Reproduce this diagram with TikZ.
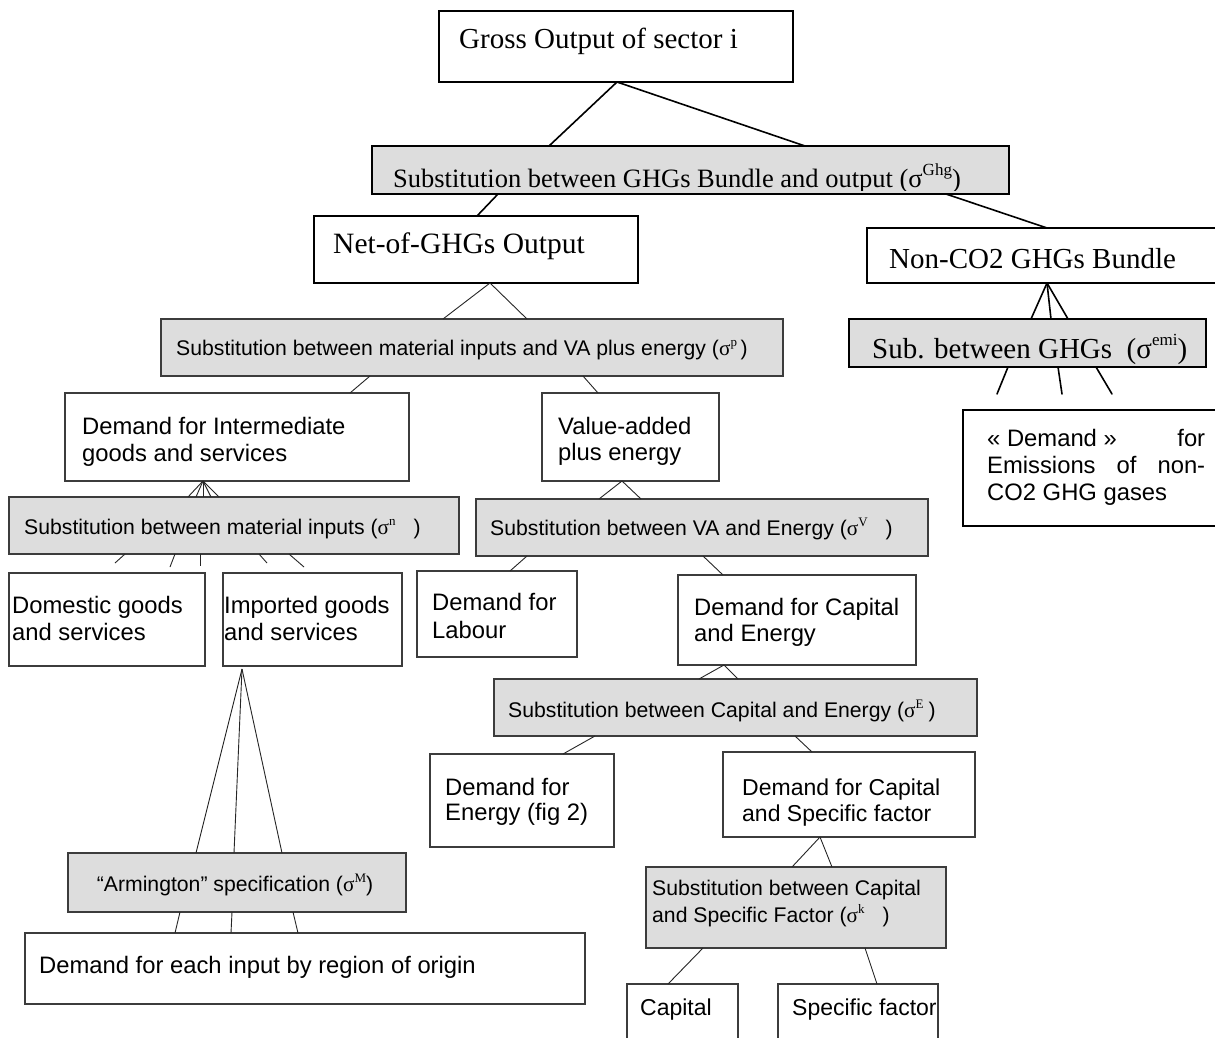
\documentclass[tikz,border=0pt]{standalone}
\usepackage{fontspec}
\setmainfont{Liberation Serif}
\newfontfamily\arialf{Liberation Sans}
\definecolor{subgray}{RGB}{221,221,221}
\definecolor{lowedge}{RGB}{60,60,60}
\newcommand{\supr}[2][13]{\raisebox{0.42em}{\fontsize{#1}{#1}\selectfont\rmfamily #2}}
\newcommand{\sig}{{\rmfamily σ}}
\tikzset{
  wh/.style 2 args={minimum width=#1pt, minimum height=#2pt},
  tbox/.style={draw=black, line width=1.8pt, fill=white, anchor=north west, inner sep=0pt, outer sep=0pt},
  tsub/.style={tbox, fill=subgray},
  lbox/.style={draw=lowedge, line width=1.2pt, fill=white, anchor=north west, inner sep=0pt, outer sep=0pt},
  lsub/.style={lbox, fill=subgray},
  tline/.style={line width=1.6pt, line cap=round},
  lline/.style={line width=0.9pt, draw=black!85},
  ttxt/.style={anchor=base west, inner sep=0pt, font=\fontsize{29}{33}\selectfont},
  atxt/.style={anchor=base west, inner sep=0pt, font=\arialf\fontsize{23.8}{27}\selectfont},
  btxt/.style={anchor=base west, inner sep=0pt, font=\arialf\fontsize{23}{26}\selectfont},
  stxt/.style={anchor=base west, inner sep=0pt, font=\arialf\fontsize{21.2}{25}\selectfont},
}
\begin{document}
\begin{tikzpicture}[x=1pt, y=-1pt]
\clip (0,0) rectangle (1215,1038);
\fill[white] (0,0) rectangle (1215,1038);

% ---------- boxes ----------
\node[tbox, wh={354}{71}] (gross) at (439,11) {};
\node[tsub, wh={637}{48}] (ghg) at (372,146) {};
\node[tbox, wh={324}{67}] (net) at (314,216) {};
\node[tbox, wh={363}{55}] (nonco) at (867,228) {};
\node[tsub, wh={357}{48}] (subghg) at (849,319) {};
\node[lbox, line width=1.6pt, draw=black, wh={267}{116}] (emis) at (963,410) {};
\node[lsub, wh={622}{57}] (matsub) at (161,319) {};
\node[lbox, wh={344}{88}] (inter) at (65,393) {};
\node[lbox, wh={177}{88}] (va) at (542,393) {};
\node[lsub, wh={450}{57}] (minsub) at (9,497) {};
\node[lsub, wh={452}{57}] (vasub) at (476,499) {};
\node[lbox, wh={196}{93}] (dom) at (9,573) {};
\node[lbox, wh={179}{93}] (imp) at (223,573) {};
\node[lbox, wh={160}{86}] (lab) at (417,571) {};
\node[lbox, wh={238}{90}] (capen) at (678,575) {};
\node[lsub, wh={483}{57}] (cesub) at (494,679) {};
\node[lbox, wh={184}{93}] (energy) at (430,754) {};
\node[lbox, wh={252}{85}] (capspec) at (723,752) {};
\node[lsub, wh={300}{81}] (cssub) at (646,867) {};
\node[lsub, wh={338}{59}] (arm) at (68,853) {};
\node[lbox, wh={560}{71}] (region) at (25,933) {};
\node[lbox, wh={111}{76}] (capital) at (627,984) {};
\node[lbox, wh={160}{76}] (spec) at (778,984) {};

% ---------- free line ends ----------
\coordinate (g1) at (997,394);
\coordinate (g2) at (1062,394);
\coordinate (g3) at (1112,394);
\coordinate (m1) at (115,563);
\coordinate (m2) at (170,567);
\coordinate (m3) at (200,566);
\coordinate (m4) at (267,563);
\coordinate (m5) at (304,567);

% ---------- connectors (upper part) ----------
\draw[tline] ([xshift=178pt]gross.south west) -- ([xshift=177pt]ghg.north west);
\draw[tline] ([xshift=178pt]gross.south west) -- ([xshift=433pt]ghg.north west);
\draw[tline] ([xshift=126pt]ghg.south west) -- ([xshift=163pt]net.north west);
\draw[tline] ([xshift=574pt]ghg.south west) -- ([xshift=180pt]nonco.north west);
\foreach \d in {182,202,219}
  \draw[tline] ([xshift=180pt]nonco.south west) -- ([xshift=\d pt]subghg.north west);
\draw[tline] ([xshift=159pt]subghg.south west) -- (g1);
\draw[tline] ([xshift=209pt]subghg.south west) -- (g2);
\draw[tline] ([xshift=247pt]subghg.south west) -- (g3);

% ---------- connectors (lower part) ----------
\foreach \d in {282,366}
  \draw[lline] ([xshift=176pt]net.south west) -- ([xshift=\d pt]matsub.north west);
\draw[lline] ([xshift=209pt]matsub.south west) -- ([xshift=285pt]inter.north west);
\draw[lline] ([xshift=422pt]matsub.south west) -- ([xshift=56pt]va.north west);
\foreach \d in {179,187,194,202,210}
  \draw[lline] ([xshift=138pt]inter.south west) -- ([xshift=\d pt]minsub.north west);
\draw[lline] ([xshift=116pt]minsub.south west) -- (m1);
\draw[lline] ([xshift=166pt]minsub.south west) -- (m2);
\draw[lline] ([xshift=191pt]minsub.south west) -- (m3);
\draw[lline] ([xshift=250pt]minsub.south west) -- (m4);
\draw[lline] ([xshift=280pt]minsub.south west) -- (m5);
\foreach \d in {123,165}
  \draw[lline] ([xshift=80pt]va.south west) -- ([xshift=\d pt]vasub.north west);
\draw[lline] ([xshift=51pt]vasub.south west) -- ([xshift=93pt]lab.north west);
\draw[lline] ([xshift=227pt]vasub.south west) -- ([xshift=45pt]capen.north west);
\foreach \d in {205,244}
  \draw[lline] ([xshift=46pt]capen.south west) -- ([xshift=\d pt]cesub.north west);
\draw[lline] ([xshift=101pt]cesub.south west) -- ([xshift=133pt]energy.north west);
\draw[lline] ([xshift=301pt]cesub.south west) -- ([xshift=89pt]capspec.north west);
\foreach \d in {146,186}
  \draw[lline] ([xshift=97pt]capspec.south west) -- ([xshift=\d pt]cssub.north west);
\draw[lline] ([xshift=57pt]cssub.south west) -- ([xshift=41pt]capital.north west);
\draw[lline] ([xshift=219pt]cssub.south west) -- ([xshift=99pt]spec.north west);
\foreach \d in {128,166,214}
  \draw[lline] ([xshift=19pt,yshift=-3pt]imp.south west) -- ([xshift=\d pt]arm.north west);
\draw[lline] ([xshift=112pt]arm.south west) -- ([xshift=150pt]region.north west);
\draw[lline] ([xshift=164pt]arm.south west) -- ([xshift=206pt]region.north west);
\draw[lline] ([xshift=225pt]arm.south west) -- ([xshift=273pt]region.north west);

% ---------- texts ----------
\node[ttxt] (tgross) at (459,49) {Gross Output of sector i};
\begin{scope}
  \clip ([xshift=1pt,yshift=-1pt]ghg.north west) rectangle ([xshift=-1pt,yshift=4pt]ghg.south east);
  \node[ttxt, font=\fontsize{26.5}{30}\selectfont] (tghg) at (393,187) {Substitution between GHGs Bundle and output (σ\supr[17]{Ghg})};
\end{scope}
\node[ttxt, font=\fontsize{29.5}{33}\selectfont] (tnet) at (333,253) {Net-of-GHGs Output};
\node[ttxt] (tnonco) at (889,268) {Non-CO2 GHGs Bundle};
\begin{scope}
  \clip ([xshift=1pt,yshift=-1pt]subghg.north west) rectangle ([xshift=-1pt,yshift=2pt]subghg.south east);
  \node[ttxt] (tsubghg) at (872,358) {Sub. between GHGs\ \ (σ\supr[17]{emi})};
\end{scope}
\node[atxt] (temis1) at (987,446) {\makebox[218pt][l]{« Demand »\hfill for}};
\node[atxt] (temis2) at (987,473) {\makebox[218pt][s]{Emissions of non-}};
\node[atxt] (temis3) at (987,500) {CO2 GHG gases};

\node[stxt] (tmatsub) at (176,355.5) {Substitution between material inputs and VA plus energy (\sig\supr{p}\,)};
\node[atxt] (tinter1) at (82,434.5) {Demand for Intermediate};
\node[atxt] (tinter2) at (82,461.5) {goods and services};
\node[atxt] (tva1) at (558,434.5) {Value-added};
\node[atxt] (tva2) at (558,460.5) {plus energy};
\node[stxt] (tminsub) at (24,534.5) {Substitution between material inputs (\sig\supr{n}\hspace{18pt})};
\node[stxt] (tvasub) at (490,535.5) {Substitution between VA and Energy (\sig\supr{V}\hspace{18pt})};
\node[atxt] (tdom1) at (12,613.5) {Domestic goods};
\node[atxt] (tdom2) at (12,640.5) {and services};
\node[atxt] (timp1) at (224,613.5) {Imported goods};
\node[atxt] (timp2) at (224,640.5) {and services};
\node[atxt] (tlab1) at (432,610.5) {Demand for};
\node[atxt] (tlab2) at (432,638) {Labour};
\node[atxt] (tcapen1) at (694,615.5) {Demand for Capital};
\node[atxt] (tcapen2) at (694,641.5) {and Energy};
\node[stxt] (tcesub) at (508,717.5) {Substitution between Capital and Energy (\sig\supr{E}\hspace{5pt})};
\node[atxt] (tenergy1) at (445,795.5) {Demand for};
\node[atxt] (tenergy2) at (445,820.5) {Energy (fig 2)};
\node[btxt] (tcapspec1) at (742,795.5) {Demand for Capital};
\node[btxt] (tcapspec2) at (742,821.5) {and Specific factor};
\node[stxt] (tcssub1) at (652,895.5) {Substitution between Capital};
\node[stxt] (tcssub2) at (652,922.5) {and Specific Factor (\sig\supr{k}\hspace{18pt})};
\node[stxt, anchor=base] (tarm) at (235,891.5) {“Armington” specification (\sig\supr{M})};
\node[atxt] (tregion) at (39,973.5) {Demand for each input by region of origin};
\node[btxt] (tcapital) at (640,1015.5) {Capital};
\node[btxt] (tspec) at (792,1015.5) {Specific factor};
\end{tikzpicture}
\end{document}
